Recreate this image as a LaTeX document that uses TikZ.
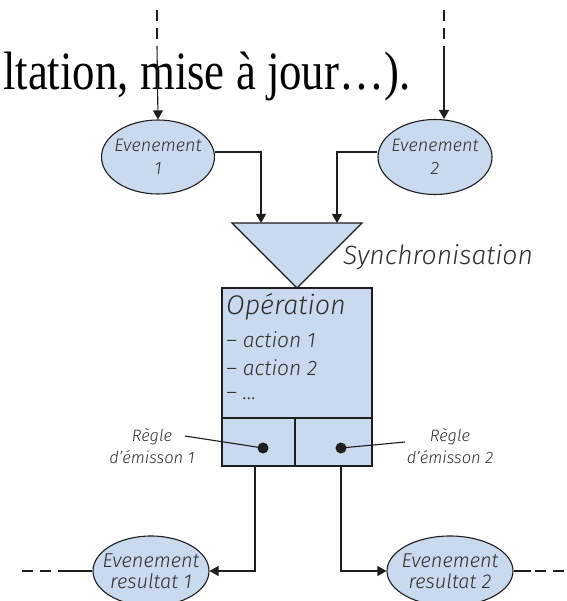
\documentclass[tikz,border=0pt]{standalone}
\usepackage{fontspec}
\setmainfont{Liberation Serif}
\newfontfamily\hand{Fira Sans Light Italic}
\usetikzlibrary{shapes.geometric,arrows.meta}
\definecolor{boxfill}{HTML}{C9D9EE}
\definecolor{ink}{HTML}{1E1E1E}
\definecolor{txt}{HTML}{2E2E2E}
\tikzset{
  line/.style={draw=ink, line width=1.1pt},
  flow/.style={line, -{Triangle[width=10pt,length=9pt]}},
  dashline/.style={draw=ink, line width=1.1pt, dash pattern=on 11pt off 7pt},
  event/.style={ellipse, draw=ink, line width=1.1pt, fill=boxfill, inner xsep=-14pt, inner ysep=0pt,
    align=center, text=txt, font=\hand\fontsize{18}{23}\selectfont},
  result/.style={event, font=\hand\fontsize{20}{21}\selectfont},
  label/.style={inner sep=0pt, text=txt, align=center, font=\hand\fontsize{16.5}{22}\selectfont},
  dot/.style={circle, fill=ink, inner sep=0pt, minimum size=11pt},
}
\begin{document}
\begin{tikzpicture}[x=1pt, y=-1pt]
\useasboundingbox (0,0) rectangle (566,601);
\clip (0,0) rectangle (566,601);
\fill[white] (0,0) rectangle (566,601);

% line of running text behind the diagram
\node[anchor=base west, inner sep=0pt, xscale=0.83, font=\fontsize{54}{60}\selectfont]
  (caption) at (3,90) {ltation, mise à jour…).};

% incoming events
\node[event, minimum width=113pt, minimum height=74pt] (ev1) at (158,157) {Evenement\\1};
\node[event, minimum width=114pt, minimum height=75pt] (ev2) at (435,157) {Evenement\\2};

\coordinate (in1a) at (157,10);
\coordinate (in1b) at (157,46);
\coordinate (in2a) at (444,10);
\coordinate (in2b) at (444,46);
\draw[dashline] (in1a) -- (in1b);
\draw[dashline] (in2a) -- (in2b);
\draw[flow] (in1b) -- (ev1.north);
\draw[flow] (in2b) -- (ev2.north -| in2b);

% synchronisation triangle
\coordinate (triL) at (232,223);
\coordinate (triR) at (362,223);
\coordinate (apex) at (297,288);
\filldraw[line, fill=boxfill, line join=miter] (triL) -- (triR) -- (apex) -- cycle;
\node[label, anchor=west, font=\hand\fontsize{26.5}{30}\selectfont] (sync) at (343,257) {Synchronisation};
\coordinate (s1) at (261,223);
\coordinate (s2) at (337,223);
\draw[flow] (ev1.east |- 0,152) -| (s1);
\draw[flow] (ev2.west |- 0,152) -| (s2);

% operation box with its two emission rules
\node[draw=ink, line width=1.1pt, fill=boxfill, minimum width=150pt, minimum height=178pt,
  inner sep=0pt] (op) at (297,377) {};
\draw[line] (op.west |- 0,418) -- (op.east |- 0,418);
\draw[line] (295,418) -- (op.south -| 295,0);
\node[label, anchor=west, font=\hand\fontsize{27}{30}\selectfont] (optitle) at (226,307) {Opération};
\node[label, anchor=west, font=\hand\fontsize{21}{24}\selectfont] (act1) at (226,340) {– action 1};
\node[label, anchor=west, font=\hand\fontsize{21}{24}\selectfont] (act2) at (226,368) {– action 2};
\node[label, anchor=west, font=\hand\fontsize{21}{24}\selectfont] (act3) at (226,396) {– …};

\node[dot] (d1) at (263,448) {};
\node[dot] (d2) at (341,448) {};
\node[label] (r1) at (152,446) {Règle\\d’émisson 1};
\node[label] (r2) at (450,446) {Règle\\d’émisson 2};
\coordinate (l1) at (185,436);
\coordinate (l2) at (405,442);
\draw[line] (l1) -- (d1.center);
\draw[line] (l2) -- (d2.center);

% resulting events
\node[result, minimum width=116pt, minimum height=70pt] (res1) at (151,571) {Evenement\\resultat 1};
\node[result, minimum width=126pt, minimum height=70pt] (res2) at (450,571) {Evenement\\resultat 2};
\coordinate (o1) at (255,466);
\coordinate (o2) at (341,466);
\draw[flow] (o1) |- (res1.east);
\draw[flow] (o2) |- (res2.west);

\coordinate (outL) at (22,571);
\coordinate (outLs) at (60,571);
\coordinate (outR) at (566,571);
\coordinate (outRs) at (531,571);
\draw[line] (outLs) -- (res1.west);
\draw[dashline] (outL) -- (outLs);
\draw[line] (res2.east) -- (outRs);
\draw[dashline, dash phase=-4pt] (outRs) -- (outR);
\end{tikzpicture}
\end{document}
